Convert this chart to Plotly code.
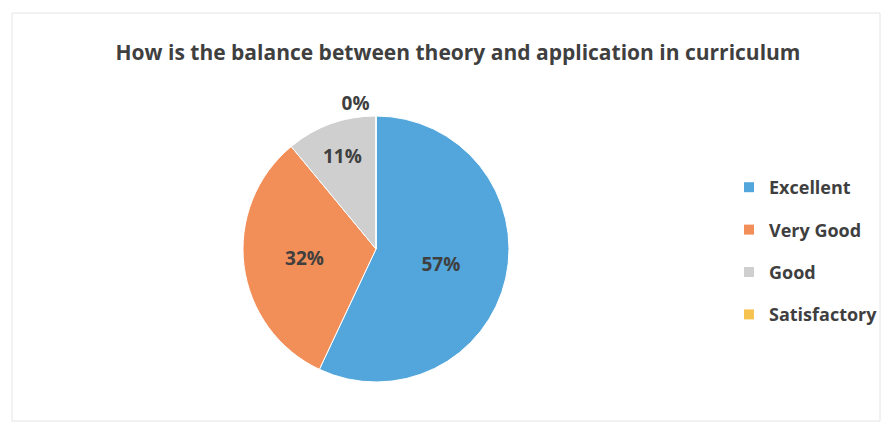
import plotly.graph_objects as go

title = "How is the balance between theory and application in curriculum"
categories = ["Excellent", "Very Good", "Good", "Satisfactory"]
values = [57, 32, 11, 0]
colors = ["#52a6dc", "#f28e58", "#cfcfcf", "#f6c250"]
text_positions = ["inside", "inside", "inside", "outside"]

FONT = "Open Sans"
TXT = "#3f3f3f"
W, H = 890, 425
OFF = 8  # page body margin

def px(x):
    return (x - OFF) / W

def py(y):
    return 1 - (y - OFF) / H

fig = go.Figure()
fig.add_trace(go.Pie(
    labels=categories,
    values=values,
    sort=False,
    direction="clockwise",
    rotation=0,
    marker=dict(colors=colors, line=dict(color="white", width=1)),
    texttemplate="%{percent:.0%}",
    textposition=text_positions,
    insidetextorientation="horizontal",
    textfont=dict(family=FONT, size=19, color=TXT, weight="bold"),
    showlegend=False,
    domain=dict(x=[px(243), px(509)], y=[py(382), py(116)]),
    hoverinfo="label+percent",
))

for i, (c, col) in enumerate(zip(categories, colors)):
    fig.add_trace(go.Scatter(
        x=[None], y=[None], mode="markers", name=c,
        marker=dict(symbol="square", size=10, color=col),
        legendgroup=f"g{i}", showlegend=True,
    ))

fig.update_layout(
    width=W, height=H,
    margin=dict(l=0, r=0, t=0, b=0),
    paper_bgcolor="white", plot_bgcolor="white",
    xaxis=dict(visible=False), yaxis=dict(visible=False),
    title=dict(text=title, x=px(458), xanchor="center", y=py(53), yanchor="middle",
               font=dict(family=FONT, size=21, color=TXT, weight="bold")),
    legend=dict(x=px(729), xanchor="left", y=py(169), yanchor="top",
                tracegroupgap=16, font=dict(family=FONT, size=18, color=TXT, weight="bold"),
                itemwidth=30, bgcolor="rgba(0,0,0,0)"),
    shapes=[dict(type="rect", xref="paper", yref="paper", x0=px(12), x1=px(880),
                 y0=py(421), y1=py(13), line=dict(color="#e4e4e4", width=1))],
)

fig.write_html("out.html")
